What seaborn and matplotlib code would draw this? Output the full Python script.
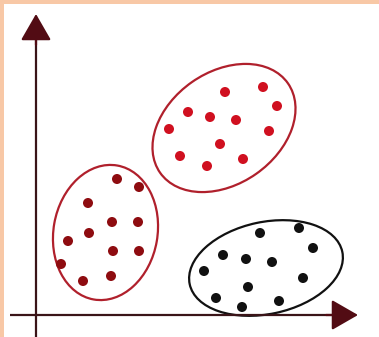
import numpy as np
import pandas as pd
import matplotlib
matplotlib.use("Agg")
import matplotlib.pyplot as plt
from matplotlib.patches import Ellipse, Rectangle
import seaborn as sns

# ---- data (x, y relative to the axes origin) ----
top_x = [189, 227, 241, 152, 174, 200, 133, 233, 184, 144, 207, 171]
top_y = [223, 228, 209, 203, 198, 195, 186, 184, 171, 159, 156, 149]

left_x = [81, 103, 52, 76, 102, 53, 32, 77, 103, 25, 47, 75]
left_y = [136, 128, 112, 93, 93, 82, 74, 64, 64, 51, 34, 39]

bottom_x = [224, 263, 277, 187, 210, 236, 168, 267, 212, 180, 206, 243]
bottom_y = [82, 87, 67, 60, 56, 53, 44, 37, 28, 17, 8, 14]

clusters = ["top", "left", "bottom"]
cluster_colors = {"top": "#d01020", "left": "#8e0c10", "bottom": "#111111"}

df = pd.concat([
    pd.DataFrame({"x": top_x, "y": top_y, "cluster": "top"}),
    pd.DataFrame({"x": left_x, "y": left_y, "cluster": "left"}),
    pd.DataFrame({"x": bottom_x, "y": bottom_y, "cluster": "bottom"}),
], ignore_index=True)

# ---- figure ----
fig = plt.figure(figsize=(3.79, 3.37), dpi=100, facecolor="white")
ax = fig.add_axes([0, 0, 1, 1])
ax.set_xlim(-36, 343)
ax.set_ylim(-22, 315)
ax.axis("off")

# peach frame on top and left
fig.patches.append(Rectangle((0, 1 - 4 / 337), 1, 4 / 337, transform=fig.transFigure,
                             facecolor="#f8c8a6", edgecolor="none", zorder=0))
fig.patches.append(Rectangle((0, 0), 4 / 379, 1, transform=fig.transFigure,
                             facecolor="#f8c8a6", edgecolor="none", zorder=0))

# cluster ellipses
ax.add_patch(Ellipse((188, 187), 156, 112, angle=35, fill=False,
                     edgecolor="#b0202c", linewidth=1.6, zorder=2))
ax.add_patch(Ellipse((69.5, 82.5), 136, 104, angle=80, fill=False,
                     edgecolor="#b0202c", linewidth=1.6, zorder=2))
ax.add_patch(Ellipse((230, 47), 156, 92, angle=12, fill=False,
                     edgecolor="#111111", linewidth=1.6, zorder=2))

# axes with arrows
axis_color = "#3a1418"
head_color = "#520c14"
ax.plot([0, 0], [-22, 285], color=axis_color, lw=1.6, zorder=3, solid_capstyle="butt")
ax.plot([-26, 306], [0, 0], color=axis_color, lw=1.6, zorder=3, solid_capstyle="butt")
ax.annotate("", xy=(0, 301), xytext=(0, 270),
            arrowprops=dict(arrowstyle="-|>,head_length=16.5,head_width=9.5",
                            mutation_scale=1, color=head_color, lw=1.6,
                            shrinkA=0, shrinkB=0), zorder=4)
ax.annotate("", xy=(322, 0), xytext=(290, 0),
            arrowprops=dict(arrowstyle="-|>,head_length=16.5,head_width=9.5",
                            mutation_scale=1, color=head_color, lw=1.6,
                            shrinkA=0, shrinkB=0), zorder=4)

sns.scatterplot(data=df, x="x", y="y", hue="cluster", hue_order=clusters,
                palette=cluster_colors, s=52, linewidth=0, legend=False,
                ax=ax, zorder=5)
ax.set_xlim(-36, 343)
ax.set_ylim(-22, 315)
ax.axis("off")

fig.savefig("out.png", dpi=100, facecolor="white")
